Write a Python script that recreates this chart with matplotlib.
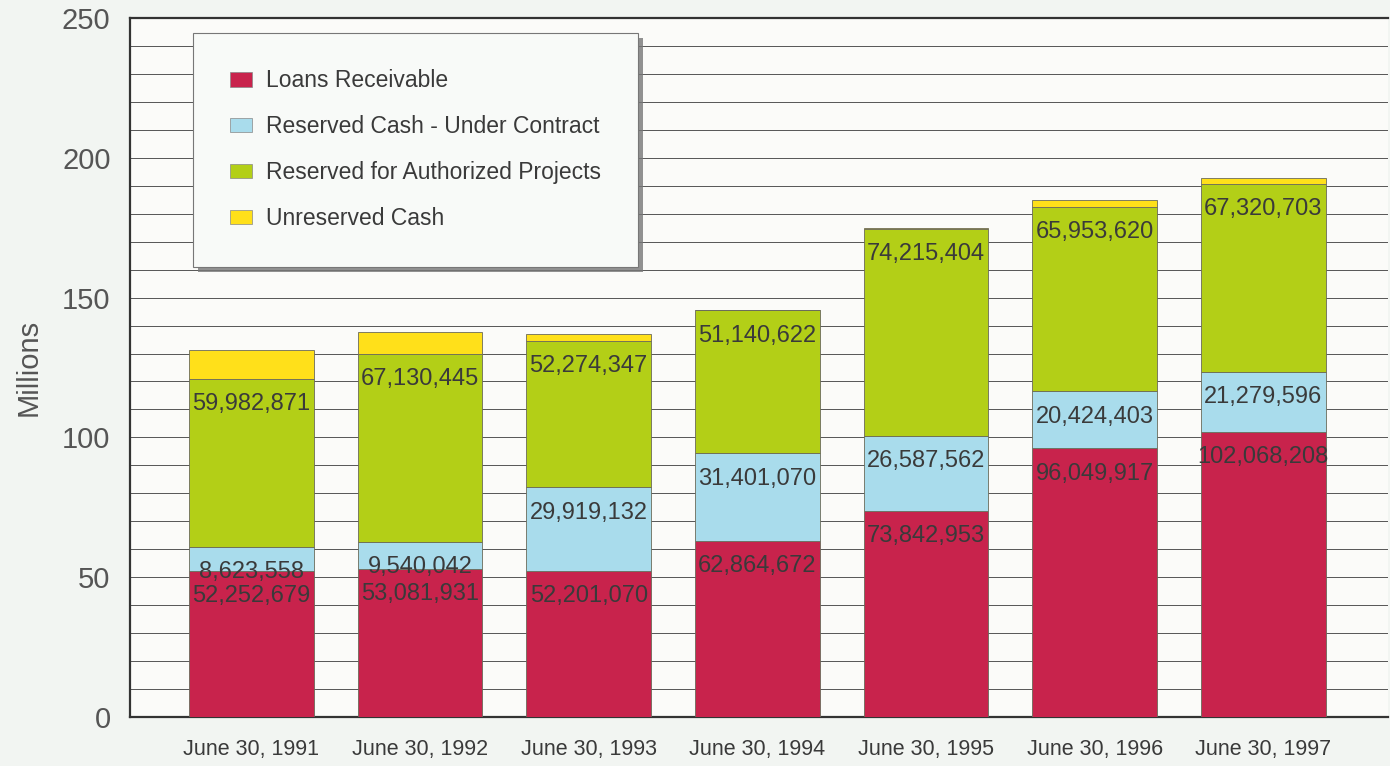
import matplotlib
matplotlib.use('Agg')
import matplotlib.pyplot as plt
import matplotlib.patches as mpatches
import matplotlib.patheffects as pe
from matplotlib import font_manager
import numpy as np

# data (millions)
dates = ['June 30, 1991', 'June 30, 1992', 'June 30, 1993', 'June 30, 1994',
         'June 30, 1995', 'June 30, 1996', 'June 30, 1997']
loans = [52252679, 53081931, 52201070, 62864672, 73842953, 96049917, 102068208]
cash_contract = [8623558, 9540042, 29919132, 31401070, 26587562, 20424403, 21279596]
authorized = [59982871, 67130445, 52274347, 51140622, 74215404, 65953620, 67320703]
# unreserved cash is not labelled
unreserved = [10.4e6, 7.9e6, 2.5e6, 0.3e6, 0.3e6, 2.5e6, 2.2e6]

series = [
    ('Loans Receivable', loans, '#C8234C'),
    ('Reserved Cash - Under Contract', cash_contract, '#A9DCEC'),
    ('Reserved for Authorized Projects', authorized, '#B3CF17'),
    ('Unreserved Cash', unreserved, '#FFE01A'),
]
labelled = [True, True, True, False]

plt.rcParams['font.family'] = ['Liberation Sans', 'DejaVu Sans']
TXT = '#3a3a3a'

# condensed font for the date labels if there is one
names = {f.name for f in font_manager.fontManager.ttflist}
narrow = 'Liberation Sans Narrow' in names

fig = plt.figure(figsize=(13.9, 7.66), dpi=100)
fig.patch.set_facecolor('#F2F5F2')
ax = fig.add_axes([130 / 1390, 1 - 717 / 766, 1258 / 1390, 699 / 766])
ax.set_facecolor('#FBFBF9')

x = np.arange(len(dates))
bottom = np.zeros(len(dates))
for (name, vals, color), lab in zip(series, labelled):
    v = np.array(vals) / 1e6
    ax.bar(x, v, 0.74, bottom=bottom, color=color, edgecolor='#6a6a5a',
           linewidth=0.6, zorder=3, label=name)
    if lab:
        top = bottom + v
        for xi, t, raw in zip(x, top, vals):
            ax.text(xi, t - 9, '{:,}'.format(int(raw)), ha='center', va='center',
                    fontsize=17, color=TXT, zorder=4)
    bottom = bottom + v

ax.set_xlim(-0.72, 6.74)
ax.set_ylim(0, 250)
ax.set_yticks(np.arange(0, 251, 50))
ax.set_yticks(np.arange(0, 251, 10), minor=True)
ax.grid(True, axis='y', which='both', color='#555555', linewidth=0.7, zorder=0)
ax.tick_params(axis='y', which='both', length=0, labelsize=21, labelcolor='#555555', pad=14)
ax.tick_params(axis='x', length=0, pad=16)
ax.set_xticks(x)
if narrow:
    ax.set_xticklabels(dates, fontsize=16.5, color=TXT, family='Liberation Sans Narrow')
else:
    ax.set_xticklabels(dates, fontsize=15.5, color=TXT)
ax.set_ylabel('Millions', fontsize=21, color='#555555', labelpad=14)
for s in ['left', 'bottom', 'top']:
    ax.spines[s].set_color('#333333')
    ax.spines[s].set_linewidth(1.6)
ax.spines['right'].set_visible(False)

handles = [mpatches.Patch(facecolor=c, edgecolor='#888888', linewidth=0.5, label=n)
           for n, _, c in series]
leg = ax.legend(handles=handles, loc='upper left', bbox_to_anchor=(0.05, 0.979),
                fontsize=16.5, frameon=True, fancybox=False, framealpha=1,
                handlelength=1.0, handleheight=0.6, handletextpad=0.6,
                labelspacing=1.0, borderpad=1.6, borderaxespad=0, labelcolor=TXT)
leg.get_frame().set_facecolor('#F8FAF8')
leg.get_frame().set_edgecolor('#777777')
leg.get_frame().set_linewidth(0.8)
leg.get_frame().set_path_effects([pe.SimplePatchShadow(offset=(4, -4), shadow_rgbFace='#777777', alpha=0.8), pe.Normal()])
leg.set_zorder(5)

plt.savefig('out.png', dpi=100, facecolor=fig.get_facecolor())
plt.close()
